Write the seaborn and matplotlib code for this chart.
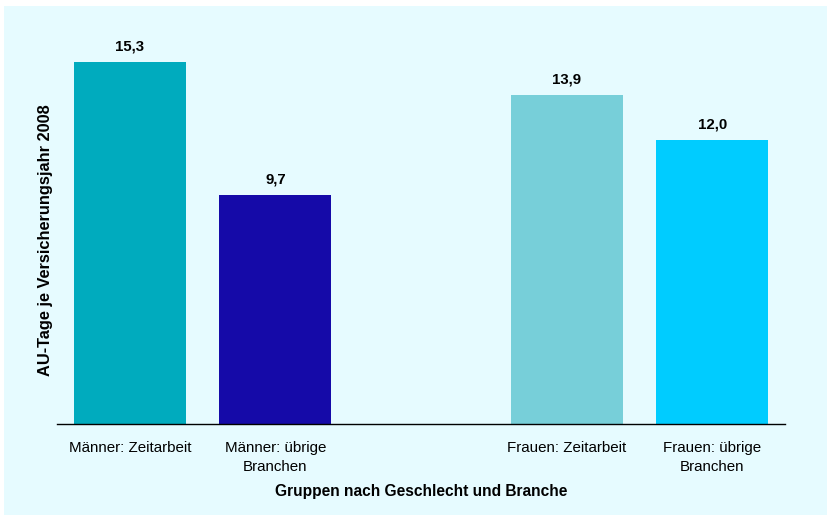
import matplotlib
matplotlib.use("Agg")
import matplotlib.pyplot as plt
from matplotlib.patches import Rectangle
import seaborn as sns
import pandas as pd

# Daten
gruppen = ["Männer: Zeitarbeit", "Männer: übrige\nBranchen",
           "Frauen: Zeitarbeit", "Frauen: übrige\nBranchen"]
werte = [15.3, 9.7, 13.9, 12.0]
farben = ["#00ABBE", "#150AA8", "#77CFD9", "#00CCFF"]
reihenfolge = [gruppen[0], gruppen[1], " ", gruppen[2], gruppen[3]]

df = pd.DataFrame({"gruppe": gruppen, "wert": werte})

sns.set_style("white")
plt.rcParams["font.family"] = ["Liberation Sans", "DejaVu Sans"]
plt.rcParams["text.color"] = "black"
plt.rcParams["axes.labelcolor"] = "black"
plt.rcParams["xtick.color"] = "black"

fig = plt.figure(figsize=(8.28, 5.16), dpi=100, facecolor="white")
# hellblauer Hintergrund (hinter den Achsen)
fig.patches.append(Rectangle((4 / 828, 1 / 516), 824 / 828, 509 / 516,
                             transform=fig.transFigure, facecolor="#E6FBFF",
                             edgecolor="none", zorder=-10))
ax = fig.add_axes([57 / 828, 92 / 516, 728 / 828, 402 / 516])
ax.set_facecolor("none")

sns.barplot(data=df, x="gruppe", y="wert", hue="gruppe", order=reihenfolge,
            hue_order=gruppen, palette=farben, legend=False, width=0.77,
            saturation=1, linewidth=0, ax=ax)

for cont in ax.containers:
    ax.bar_label(cont, labels=[f"{v:.1f}".replace(".", ",") for v in cont.datavalues],
                 padding=6, fontsize=10.8, fontweight="bold", color="black")

ax.set_xlim(-0.5, 4.5)
ax.set_ylim(0, 17)
ax.set_yticks([])
ax.tick_params(axis="x", length=0, labelsize=10.9, pad=12)
for lbl in ax.get_xticklabels():
    lbl.set_linespacing(1.5)
for s in ["top", "right", "left"]:
    ax.spines[s].set_visible(False)
ax.spines["bottom"].set_color("black")
ax.spines["bottom"].set_linewidth(1)

ax.set_xlabel("Gruppen nach Geschlecht und Branche", fontsize=11.2,
              fontweight="bold", labelpad=7)
ax.set_ylabel("AU-Tage je Versicherungsjahr 2008", fontsize=11.8,
              fontweight="bold")
ax.yaxis.set_label_coords(-0.0055, 0.458)

fig.savefig("out.png", dpi=100)
